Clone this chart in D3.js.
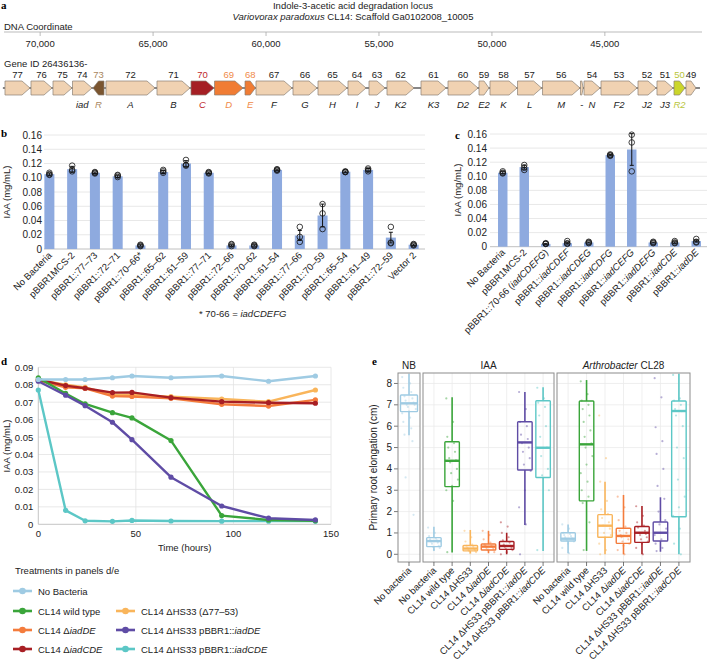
<!DOCTYPE html>
<html><head><meta charset="utf-8">
<script src="https://cdn.jsdelivr.net/npm/d3@7"></script>
<style>
body{margin:0;background:#fff;}
svg{font-family:"Liberation Sans",Arial,Helvetica,sans-serif;}
</style></head><body>
<svg id="chart" width="707" height="662"></svg>
<script>
// ================= DATA =================
// Panel a: gene map
const dnaTicks = [70000, 65000, 60000, 55000, 50000, 45000];
const locusSpan = [71650, 40790];
const geneIds = ["77","76","75","74","73","72","71","70","69","68","67","66","65","64","63","62","61","60","59","58","57","56","55","54","53","52","51","50","49"];
const geneLeft = [71556,70405,69431,68567,67660,67085,64827,63322,62281,60931,60444,58806,57699,56371,55441,54645,53139,51944,50572,50085,48867,47760,46080,45923,45171,43533,42693,41940,41409];
const geneRight = [70449,69475,68590,67704,67173,64915,63366,62303,61019,60470,58850,57744,56416,55574,54733,53449,52033,50616,50129,48889,47800,46100,45960,45215,43577,42736,41984,41453,40966];
const geneNames = ["","","","iad","R","A","B","C","D","E","F","G","H","I","J","K2","K3","D2","E2","K","L","M","-","N","F2","J2","J3","R2",""];
const reverseGenes = ["73"];

// Panel b
const bCats = ["No Bacteria","pBBR1MCS-2","pBBR1::77–73","pBBR1::72–71","pBBR1::70–66*","pBBR1::65–62","pBBR1::61–59","pBBR1::77–71","pBBR1::72–66","pBBR1::70–62","pBBR1::61–54","pBBR1::77–66","pBBR1::70–59","pBBR1::65–54","pBBR1::61–49","pBBR1::72–59","Vector 2"];
const bMeans = [0.105,0.112,0.107,0.102,0.005,0.108,0.120,0.107,0.005,0.005,0.111,0.019,0.047,0.1085,0.111,0.016,0.006];
const bErrs = [0.0015,0.004,0.001,0.0015,0.001,0.002,0.004,0.001,0.001,0.001,0.001,0.007,0.016,0.001,0.002,0.0075,0.001];
const bReps = [[0.104,0.105,0.107],[0.109,0.111,0.117],[0.106,0.107,0.108],[0.101,0.103,0.104],[0.004,0.005,0.006],[0.107,0.109,0.111],[0.117,0.118,0.125],[0.106,0.107,0.108],[0.004,0.006,0.007],[0.004,0.005,0.006],[0.110,0.111,0.112],[0.010,0.017,0.031],[0.028,0.050,0.063],[0.108,0.108,0.109],[0.109,0.111,0.113],[0.008,0.009,0.031],[0.005,0.006,0.007]];
const bcTicks = [0,0.02,0.04,0.06,0.08,0.10,0.12,0.14,0.16];

// Panel c
const cCats = ["No Bacteria","pBBR1MCS-2","pBBR1::70-66 (iadCDEFG)","pBBR1::iadCDEF","pBBR1::iadCDEG","pBBR1::iadCDFG","pBBR1::iadCEFG","pBBR1::iadDEFG","pBBR1::iadCDE","pBBR1::iadDE"];
const cMeans = [0.105,0.113,0.004,0.005,0.006,0.130,0.138,0.006,0.006,0.008];
const cErrs = [0.0015,0.003,0.0007,0.0012,0.0007,0.0008,0.0225,0.0006,0.001,0.0015];
const cReps = [[0.104,0.105,0.107],[0.109,0.112,0.116],[0.004,0.004,0.005],[0.004,0.005,0.008],[0.005,0.006,0.007],[0.129,0.130,0.131],[0.107,0.148,0.159],[0.005,0.006,0.007],[0.005,0.006,0.008],[0.006,0.007,0.011]];

// Panel d
const dTimes = [0,14,24,38,48,68,94,118,142];
const dNoBacteria = [0.083,0.083,0.083,0.084,0.085,0.084,0.085,0.082,0.085];
const dWildType = [0.084,0.075,0.069,0.064,0.061,0.048,0.005,0.0025,0.002];
const dIadDE = [0.0824,0.0785,0.078,0.0735,0.0733,0.0722,0.0688,0.0678,0.0713];
const dIadCDE = [0.083,0.0795,0.078,0.0755,0.0756,0.0726,0.0703,0.0697,0.0694];
const dHS33 = [0.0827,0.080,0.0785,0.0742,0.0742,0.0732,0.0718,0.0703,0.077];
const dHS33iadDE = [0.082,0.074,0.068,0.0585,0.0485,0.027,0.0105,0.0035,0.0025];
const dHS33iadCDE = [0.077,0.008,0.002,0.0017,0.0022,0.0019,0.0018,0.0018,0.0018];
const dYTicks = [0,0.01,0.02,0.03,0.04,0.05,0.06,0.07,0.08,0.09];
const dXTicks = [0,50,100,150];

// Treatments (legend d/e)
const treatments = ["No Bacteria","CL14 wild type","CL14 ΔiadDE","CL14 ΔiadCDE","CL14 ΔHS33 (Δ77–53)","CL14 ΔHS33 pBBR1::iadDE","CL14 ΔHS33 pBBR1::iadCDE"];

// Panel e
const eFacets = ["NB","IAA","Arthrobacter CL28"];
const eCatsNB = ["No bacteria"];
const eCats = ["No bacteria","CL14 wild type","CL14 ΔHS33","CL14 ΔiadDE","CL14 ΔiadCDE","CL14 ΔHS33 pBBR1::iadDE","CL14 ΔHS33 pBBR1::iadCDE"];
// [lower whisker, q1, median, q3, upper whisker]
const eBoxNB = [[5.58,6.68,7.07,7.46,8.45]];
const eBoxIAA = [[0.17,0.36,0.62,0.78,1.29],[0.08,3.17,4.38,5.27,7.35],[0.05,0.16,0.27,0.41,1.14],[0.05,0.2,0.36,0.48,1.1],[0.0,0.23,0.39,0.6,1.01],[1.37,3.95,5.24,6.21,7.6],[0.16,3.6,4.99,7.19,7.82]];
const eBoxArth = [[0.05,0.62,0.73,1.01,1.4],[0.16,2.5,5.15,7.18,8.16],[0.0,0.8,1.34,1.86,3.4],[0.0,0.51,0.86,1.22,2.78],[0.0,0.56,1.01,1.3,2.26],[0.12,0.62,1.01,1.51,2.67],[0.0,1.76,6.71,7.18,8.45]];
const ePtsNB = [[8.3,8.0,7.8,7.6,7.4,7.3,7.2,7.1,7.0,7.0,6.9,6.8,6.7,6.6,6.4,6.2,5.9,5.6,5.3,3.6,1.85]];
const ePtsIAA = [
 [1.25,1.0,0.85,0.75,0.7,0.65,0.6,0.55,0.5,0.4,0.35,0.3,0.2],
 [7.3,6.2,5.5,5.2,5.0,4.8,4.5,4.4,4.3,4.0,3.8,3.5,3.2,3.0,2.5,0.1],
 [1.1,0.8,0.6,0.45,0.4,0.35,0.3,0.25,0.2,0.18,0.15,0.1,0.05],
 [1.1,0.9,0.7,0.55,0.45,0.4,0.38,0.35,0.3,0.25,0.2,0.1],
 [1.5,1.3,1.0,0.8,0.65,0.55,0.45,0.4,0.35,0.3,0.25,0.2,0.1,0.0],
 [7.6,6.8,6.2,6.0,5.6,5.4,5.2,5.0,4.8,4.5,4.2,3.9,3.0,2.2,1.4,0.0],
 [7.8,7.3,7.1,6.9,6.5,6.0,5.5,5.0,4.6,4.0,3.7,3.0,2.0,0.2]];
const ePtsArth = [
 [1.4,1.2,1.0,0.95,0.9,0.85,0.8,0.75,0.7,0.7,0.65,0.6,0.5,0.3,0.05],
 [8.1,7.5,7.2,7.0,6.8,6.5,6.2,5.8,5.5,5.2,5.0,4.6,4.2,3.8,3.4,3.0,2.7,2.4,1.5,0.2],
 [6.5,4.5,3.4,2.5,2.1,1.9,1.7,1.5,1.35,1.2,1.0,0.9,0.8,0.5,0.2,0.0],
 [2.7,2.2,1.6,1.3,1.1,1.0,0.9,0.85,0.8,0.7,0.6,0.5,0.4,0.2,0.0],
 [2.25,1.8,1.5,1.35,1.25,1.1,1.0,0.95,0.9,0.8,0.7,0.6,0.5,0.3,0.0],
 [8.25,7.35,5.95,5.3,4.7,4.0,3.2,2.6,2.0,1.6,1.4,1.2,1.0,0.9,0.7,0.5,0.3,0.15],
 [8.4,7.3,7.2,7.0,6.8,6.7,6.5,6.0,5.0,4.5,3.5,2.7,2.2,1.8,1.2,0.5,0.0]];
const eYTicks = [0,1,2,3,4,5,6,7,8];

// ================= STYLE =================
const FS = 9.5;
const TXT = "#222";
const treatColor = {
  "No Bacteria":"#9fcbe3","CL14 wild type":"#3aa53a","CL14 ΔiadDE":"#f47c3c","CL14 ΔiadCDE":"#a81f24",
  "CL14 ΔHS33 (Δ77–53)":"#f9b55b","CL14 ΔHS33 pBBR1::iadDE":"#5f4ca5","CL14 ΔHS33 pBBR1::iadCDE":"#5cc7c6"
};
const eColor = ["#9fcbe3","#3aa53a","#f9b55b","#f47c3c","#a81f24","#5f4ca5","#5cc7c6"];
const geneFill = {"73":"#7a5530","70":"#a51f24","69":"#f07c34","68":"#f07c34","50":"#cbd62b"};
const geneLabelColor = {"73":"#a8865e","70":"#c0282c","69":"#ef8a48","68":"#ef8a48","50":"#b9c53a"};
const BAR = "#8eaadf";

const svg = d3.select("#chart");

function rich(sel, str){
  const parts = str.split(/(iad[A-Z0-9]*|Variovorax paradoxus|Arthrobacter)/);
  parts.forEach(p=>{
    if(!p) return;
    const t = sel.append("tspan").text(p);
    if(/^(iad|Variovorax|Arthrobacter)/.test(p)) t.attr("font-style","italic");
  });
  return sel;
}
function panelLetter(ch,x,y){
  svg.append("text").attr("x",x).attr("y",y).attr("font-size",11).attr("font-weight","bold")
    .attr("font-family","'Liberation Serif','Times New Roman',serif").text(ch);
}

// ================= PANEL A =================
(function(){
  panelLetter("a",1,9);
  const t1 = svg.append("text").attr("x",353).attr("y",9).attr("text-anchor","middle").attr("font-size",FS).attr("fill",TXT);
  t1.text("Indole-3-acetic acid degradation locus");
  const t2 = svg.append("text").attr("x",353).attr("y",20).attr("text-anchor","middle").attr("font-size",FS).attr("fill",TXT);
  rich(t2,"Variovorax paradoxus CL14: Scaffold Ga0102008_10005");
  svg.append("text").attr("x",4).attr("y",30).attr("font-size",FS).attr("fill",TXT).text("DNA Coordinate");

  const x = d3.scaleLinear().domain([71600,40700]).range([4,702]);
  const axY = 32;
  svg.append("line").attr("x1",4).attr("x2",702).attr("y1",axY).attr("y2",axY).attr("stroke","#aaa").attr("stroke-width",0.8);
  const tk = svg.append("g");
  dnaTicks.forEach(v=>{
    tk.append("line").attr("x1",x(v)).attr("x2",x(v)).attr("y1",axY).attr("y2",axY+4).attr("stroke","#aaa").attr("stroke-width",0.8);
    tk.append("text").attr("x",x(v)).attr("y",axY+15).attr("text-anchor","middle").attr("font-size",FS).attr("fill",TXT).text(d3.format(",")(v));
  });

  svg.append("text").attr("x",4).attr("y",67).attr("font-size",FS).attr("fill",TXT).text("Gene ID 26436136-");

  const top = 81, bot = 95, mid = (top+bot)/2;
  svg.append("line").attr("x1",x(locusSpan[0])).attr("x2",x(locusSpan[1])).attr("y1",mid).attr("y2",mid).attr("stroke","#111").attr("stroke-width",1.2);
  const g = svg.append("g");
  geneIds.forEach((id,i)=>{
    const x0 = x(geneLeft[i]), x1 = x(geneRight[i]);
    const w = x1-x0;
    const h = Math.min(8, w*0.5);
    let pts;
    if(reverseGenes.includes(id)){
      pts = [[x1,top],[x0+h,top],[x0,mid],[x0+h,bot],[x1,bot]];
    } else {
      pts = [[x0,top],[x1-h,top],[x1,mid],[x1-h,bot],[x0,bot]];
    }
    g.append("polygon").attr("points",pts.map(p=>p.join(",")).join(" "))
      .attr("fill",geneFill[id]||"#f0d2b2").attr("stroke","#8a7f74").attr("stroke-width",0.7);
    const cx = (x0+x1)/2;
    if(id!=="55"){
      g.append("text").attr("x",cx).attr("y",78).attr("text-anchor","middle").attr("font-size",FS)
        .attr("fill",geneLabelColor[id]||TXT).text(id);
    }
    if(geneNames[i]){
      g.append("text").attr("x",cx).attr("y",108).attr("text-anchor","middle").attr("font-size",FS)
        .attr("font-style",geneNames[i]==="-"?"normal":"italic")
        .attr("fill",geneLabelColor[id]||TXT).text(geneNames[i]);
    }
  });
})();

// ================= BAR PANELS B & C =================
function barPanel(cats, means, errs, reps, xr, yr, labY, gridX0, tickX){
  const x = d3.scaleBand().domain(cats).range(xr).paddingInner(0.56).paddingOuter(0.28);
  const y = d3.scaleLinear().domain([0,0.16]).range(yr);
  const g = svg.append("g");
  bcTicks.forEach(v=>{
    g.append("line").attr("x1",gridX0).attr("x2",xr[1]).attr("y1",y(v)).attr("y2",y(v))
      .attr("stroke", v===0?"#b0b0b0":"#e2e2e2").attr("stroke-width",0.8);
    g.append("text").attr("x",tickX).attr("y",y(v)+3.5).attr("text-anchor","end").attr("font-size",FS+0.5).attr("fill",TXT)
      .text(v===0?"0":d3.format(".2f")(v));
  });
  cats.forEach((c,i)=>{
    const cx = x(c)+x.bandwidth()/2;
    g.append("rect").attr("x",x(c)).attr("width",x.bandwidth()).attr("y",y(means[i])).attr("height",y(0)-y(means[i])).attr("fill",BAR);
    const lo = y(means[i]-errs[i]), hi = y(means[i]+errs[i]);
    g.append("line").attr("x1",cx).attr("x2",cx).attr("y1",lo).attr("y2",hi).attr("stroke","#111").attr("stroke-width",1);
    [lo,hi].forEach(yy=>g.append("line").attr("x1",cx-2).attr("x2",cx+2).attr("y1",yy).attr("y2",yy).attr("stroke","#111").attr("stroke-width",1));
    reps[i].forEach(v=>{
      g.append("circle").attr("cx",cx).attr("cy",y(v)).attr("r",2.8).attr("fill","none").attr("stroke","#111").attr("stroke-width",0.8);
    });
    const t = g.append("text").attr("transform",`translate(${cx+3},${labY}) rotate(-45)`).attr("text-anchor","end")
      .attr("font-size",FS).attr("fill",TXT);
    rich(t,c);
  });
  return {x,y};
}
panelLetter("b",1,137);
barPanel(bCats,bMeans,bErrs,bReps,[38,425],[249,135],256,44,42);
svg.append("text").attr("transform","translate(10,192) rotate(-90)").attr("text-anchor","middle").attr("font-size",FS).attr("fill",TXT).text("IAA (mg/mL)");
rich(svg.append("text").attr("x",199).attr("y",317).attr("font-size",FS).attr("fill",TXT),"* 70-66 = iadCDEFG");

panelLetter("c",455,139);
barPanel(cCats,cMeans,cErrs,cReps,[492,707],[246.7,134],253,490,487);
svg.append("text").attr("transform","translate(461,190) rotate(-90)").attr("text-anchor","middle").attr("font-size",FS).attr("fill",TXT).text("IAA (mg/mL)");

// ================= PANEL D =================
(function(){
  panelLetter("d",1,365);
  const x = d3.scaleLinear().domain([0,150]).range([38.3,331]);
  const y = d3.scaleLinear().domain([0,0.09]).range([524.3,367.3]);
  const g = svg.append("g");
  dYTicks.forEach(v=>{
    g.append("line").attr("x1",x(0)).attr("x2",x(150)).attr("y1",y(v)).attr("y2",y(v))
      .attr("stroke", v===0?"#b5b5b5":"#e2e2e2").attr("stroke-width",0.8);
    g.append("text").attr("x",x(0)-5).attr("y",y(v)+3.5).attr("text-anchor","end").attr("font-size",FS).attr("fill",TXT)
      .text(v===0?"0":d3.format(".2f")(v));
  });
  dXTicks.forEach(v=>{
    g.append("line").attr("x1",x(v)).attr("x2",x(v)).attr("y1",y(0)).attr("y2",y(0.09))
      .attr("stroke", v===0?"#b5b5b5":"#e2e2e2").attr("stroke-width",0.8);
    g.append("text").attr("x",x(v)).attr("y",y(0)+13).attr("text-anchor","middle").attr("font-size",FS).attr("fill",TXT).text(v);
  });
  svg.append("text").attr("x",x(75)).attr("y",551).attr("text-anchor","middle").attr("font-size",FS).attr("fill",TXT).text("Time (hours)");
  svg.append("text").attr("transform","translate(10,446) rotate(-90)").attr("text-anchor","middle").attr("font-size",FS).attr("fill",TXT).text("IAA (mg/mL)");
  const series = [
    ["CL14 ΔHS33 (Δ77–53)", dHS33],
    ["CL14 ΔiadDE", dIadDE],
    ["CL14 ΔiadCDE", dIadCDE],
    ["CL14 ΔHS33 pBBR1::iadCDE", dHS33iadCDE],
    ["CL14 wild type", dWildType],
    ["CL14 ΔHS33 pBBR1::iadDE", dHS33iadDE],
    ["No Bacteria", dNoBacteria]
  ];
  const line = d3.line().x((d,i)=>x(dTimes[i])).y(d=>y(d));
  series.forEach(([name,vals])=>{
    const col = treatColor[name];
    g.append("path").attr("d",line(vals)).attr("fill","none").attr("stroke",col).attr("stroke-width",2.4).attr("stroke-linejoin","round");
    vals.forEach((v,i)=>g.append("circle").attr("cx",x(dTimes[i])).attr("cy",y(v)).attr("r",2.6).attr("fill",col));
  });
})();

// ================= LEGEND =================
(function(){
  svg.append("text").attr("x",15).attr("y",574).attr("font-size",FS).attr("fill",TXT).text("Treatments in panels d/e");
  const pos = [[13,591],[13,611],[13,630],[13,649],[116,611],[116,630],[116,649]];
  treatments.forEach((t,i)=>{
    const [lx,ly] = pos[i];
    const col = treatColor[t];
    svg.append("line").attr("x1",lx).attr("x2",lx+19).attr("y1",ly).attr("y2",ly).attr("stroke",col).attr("stroke-width",2.6);
    svg.append("circle").attr("cx",lx+9.5).attr("cy",ly).attr("r",3.3).attr("fill",col);
    rich(svg.append("text").attr("x",lx+25).attr("y",ly+3.5).attr("font-size",FS).attr("fill",TXT),t);
  });
})();

// ================= PANEL E =================
(function(){
  panelLetter("e",372,365);
  const y = d3.scaleLinear().domain([-0.36,8.49]).range([562,373]);
  const facets = [
    {name:eFacets[0], cats:eCatsNB, box:eBoxNB, pts:ePtsNB, r:[398,420], bw:17, col:[eColor[0]]},
    {name:eFacets[1], cats:eCats, box:eBoxIAA, pts:ePtsIAA, r:[423,554], bw:14.5, col:eColor},
    {name:eFacets[2], cats:eCats, box:eBoxArth, pts:ePtsArth, r:[557,690], bw:14.5, col:eColor}
  ];
  const top = 373, bot = 562;
  eYTicks.forEach(v=>{
    svg.append("line").attr("x1",394).attr("x2",398).attr("y1",y(v)).attr("y2",y(v)).attr("stroke","#555").attr("stroke-width",0.8);
    svg.append("text").attr("x",392).attr("y",y(v)+3.5).attr("text-anchor","end").attr("font-size",FS+0.5).attr("fill",TXT).text(v);
  });
  svg.append("text").attr("transform",`translate(377,${(top+bot)/2}) rotate(-90)`).attr("text-anchor","middle").attr("font-size",FS+0.5).attr("fill",TXT).text("Primary root elongation (cm)");
  facets.forEach(f=>{
    const g = svg.append("g");
    const x = d3.scalePoint().domain(f.cats).range(f.r).padding(0.6);
    eYTicks.forEach(v=>g.append("line").attr("x1",f.r[0]).attr("x2",f.r[1]).attr("y1",y(v)).attr("y2",y(v)).attr("stroke","#ebebeb").attr("stroke-width",0.8));
    f.cats.forEach(c=>g.append("line").attr("x1",x(c)).attr("x2",x(c)).attr("y1",top).attr("y2",bot).attr("stroke","#ebebeb").attr("stroke-width",0.8));
    const clipId = "clip"+f.r[0];
    svg.append("clipPath").attr("id",clipId).append("rect").attr("x",f.r[0]).attr("y",top).attr("width",f.r[1]-f.r[0]).attr("height",bot-top);
    const gc = g.append("g").attr("clip-path",`url(#${clipId})`);
    f.cats.forEach((c,i)=>{
      const cx = x(c), col = f.col[i], b = f.box[i], hw = f.bw/2;
      f.pts[i].forEach((v,j)=>{
        const off = (((j*7)%13)/12 - 0.5)*f.bw*0.8;
        gc.append("circle").attr("cx",cx+off).attr("cy",y(v)).attr("r",1.1).attr("fill",col).attr("opacity",0.45);
      });
      gc.append("line").attr("x1",cx).attr("x2",cx).attr("y1",y(b[0])).attr("y2",y(b[1])).attr("stroke",col).attr("stroke-width",1.6);
      gc.append("line").attr("x1",cx).attr("x2",cx).attr("y1",y(b[3])).attr("y2",y(b[4])).attr("stroke",col).attr("stroke-width",1.6);
      gc.append("rect").attr("x",cx-hw).attr("width",f.bw).attr("y",y(b[3])).attr("height",y(b[1])-y(b[3]))
        .attr("fill","none").attr("stroke",col).attr("stroke-width",1.4).attr("rx",0.8);
      gc.append("line").attr("x1",cx-hw).attr("x2",cx+hw).attr("y1",y(b[2])).attr("y2",y(b[2])).attr("stroke",col).attr("stroke-width",2.4);
      svg.append("line").attr("x1",cx).attr("x2",cx).attr("y1",bot).attr("y2",bot+4).attr("stroke","#555").attr("stroke-width",0.8);
      rich(svg.append("text").attr("transform",`translate(${cx+3},${bot+9}) rotate(-45)`).attr("text-anchor","end")
        .attr("font-size",FS).attr("fill",TXT), c);
    });
    g.append("rect").attr("x",f.r[0]).attr("y",top).attr("width",f.r[1]-f.r[0]).attr("height",bot-top)
      .attr("fill","none").attr("stroke","#8c8c8c").attr("stroke-width",1);
    rich(svg.append("text").attr("x",(f.r[0]+f.r[1])/2).attr("y",369).attr("text-anchor","middle").attr("font-size",FS+0.5).attr("fill",TXT), f.name);
  });
})();
</script>
</body></html>
